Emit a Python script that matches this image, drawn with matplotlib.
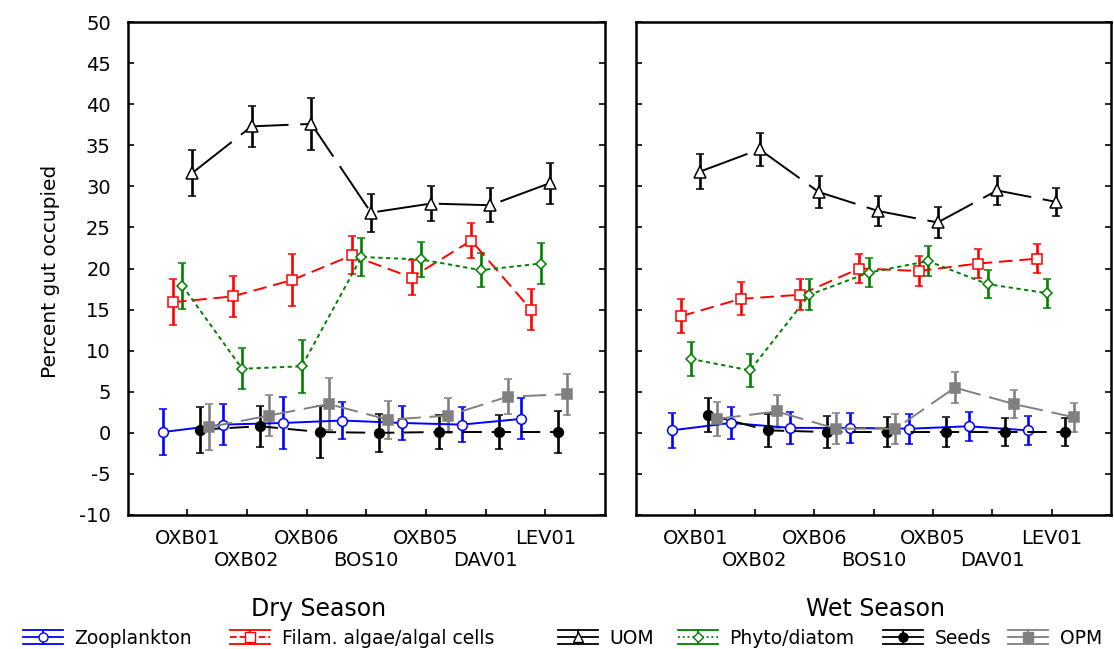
import matplotlib
matplotlib.use("Agg")
import matplotlib.pyplot as plt
from matplotlib.lines import Line2D
from matplotlib.legend_handler import HandlerBase

# ── Data ──────────────────────────────────────────────────────────────────────
sites = ["OXB01", "OXB02", "OXB06", "BOS10", "OXB05", "DAV01", "LEV01"]

zoo_dry   = [0.1, 1.0, 1.2, 1.5, 1.2, 1.0, 1.7]
filam_dry = [15.9, 16.6, 18.6, 21.6, 18.9, 23.4, 15.0]
uom_dry   = [31.6, 37.3, 37.6, 26.8, 27.9, 27.7, 30.4]
phyto_dry = [17.9, 7.8, 8.1, 21.4, 21.1, 19.8, 20.6]
seeds_dry = [0.4, 0.8, 0.1, 0.0, 0.1, 0.1, 0.1]
opm_dry   = [0.7, 2.1, 3.5, 1.6, 2.1, 4.4, 4.7]
se_dry    = [2.8, 2.5, 3.2, 2.3, 2.1, 2.1, 2.5]

zoo_wet   = [0.3, 1.2, 0.6, 0.6, 0.5, 0.8, 0.3]
filam_wet = [14.2, 16.3, 16.8, 20.0, 19.7, 20.6, 21.2]
uom_wet   = [31.8, 34.5, 29.3, 27.0, 25.6, 29.5, 28.1]
phyto_wet = [9.0, 7.6, 16.8, 19.5, 20.9, 18.1, 17.0]
seeds_wet = [2.2, 0.3, 0.1, 0.1, 0.1, 0.1, 0.1]
opm_wet   = [1.7, 2.6, 0.5, 0.5, 5.5, 3.5, 1.9]
se_wet    = [2.1, 2.0, 1.9, 1.8, 1.85, 1.75, 1.75]

labels = ["Zooplankton", "Filam. algae/algal cells", "UOM",
          "Phyto/diatom", "Seeds", "OPM"]

# ── Styles ────────────────────────────────────────────────────────────────────
STY = [
    dict(color="#0000FF", ls="-",            leg="-",  marker="o", mfc="white",   ms=7.0, off=-0.40),
    dict(color="#FF0000", ls=(0, (7, 3.5)),  leg="--", marker="s", mfc="white",   ms=7.0, off=-0.24),
    dict(color="#000000", ls=(0, (26, 6)),   leg="-",  marker="^", mfc="white",   ms=8.0, off=0.08),
    dict(color="#008000", ls=(0, (2.2, 1.8)), leg=":", marker="D", mfc="white",   ms=5.0, off=-0.08),
    dict(color="#000000", ls=(0, (10, 5)),   leg="-",  marker="o", mfc="#000000", ms=7.0, off=0.22),
    dict(color="#808080", ls=(0, (12, 4.5)), leg="-",  marker="s", mfc="#808080", ms=6.5, off=0.37),
]

W, H, DPI = 1114, 649, 100
plt.rcParams["font.family"] = "DejaVu Sans"
plt.rcParams["axes.unicode_minus"] = False

fig = plt.figure(figsize=(W / DPI, H / DPI), dpi=DPI, facecolor="white")
ax_dry = fig.add_axes([127.5 / W, (H - 515) / H, 477.5 / W, 493 / H])
ax_wet = fig.add_axes([636 / W, (H - 515) / H, 475 / W, 493 / H])

tick_labels = [s if i % 2 == 0 else "\n" + s for i, s in enumerate(sites)]
xs = list(range(1, len(sites) + 1))


def draw_panel(ax, series, se):
    for st, vals in zip(STY, series):
        x = [v + st["off"] for v in xs]
        ax.errorbar(x, vals, yerr=se, color=st["color"], ls=st["ls"], lw=1.4,
                    marker=st["marker"], mfc=st["mfc"], mec=st["color"],
                    ms=st["ms"], mew=1.1, elinewidth=1.9, capsize=3,
                    capthick=1.9)
    ax.set_xlim(0, 8)
    ax.set_ylim(-10, 50)
    ax.set_yticks(range(-10, 51, 5))
    ax.set_xticks(xs)
    ax.set_xticklabels(tick_labels, fontsize=15, linespacing=1.2)
    ax.tick_params(direction="in", length=4, width=1.2, left=True, right=True,
                   bottom=True, top=False, labelsize=14)
    ax.tick_params(axis="x", pad=10)
    ax.tick_params(axis="y", pad=12)
    for sp in ax.spines.values():
        sp.set_linewidth(1.8)


draw_panel(ax_dry, [zoo_dry, filam_dry, uom_dry, phyto_dry, seeds_dry, opm_dry], se_dry)
draw_panel(ax_wet, [zoo_wet, filam_wet, uom_wet, phyto_wet, seeds_wet, opm_wet], se_wet)
ax_wet.tick_params(axis="y", labelleft=False)

# ── Labels ────────────────────────────────────────────────────────────────────
fig.text(51 / W, 1 - 271 / H, "Percent gut occupied", rotation=90,
         fontsize=14.5, ha="center", va="center")
fig.text(319 / W, 1 - 609 / H, "Dry Season", fontsize=17, ha="center", va="center")
fig.text(876 / W, 1 - 609 / H, "Wet Season", fontsize=17, ha="center", va="center")


# ── Legend ────────────────────────────────────────────────────────────────────
class ErrHandler(HandlerBase):
    def create_artists(self, legend, h, xd, yd, width, height, fontsize, trans):
        x0, x1 = -xd, -xd + width
        y0, y1 = -yd, -yd + height
        ym, xm = (y0 + y1) / 2, (x0 + x1) / 2
        c = h.get_color()
        out = [
            Line2D([x0, x1], [y1, y1], color=c, lw=1.3),
            Line2D([x0, x1], [y0, y0], color=c, lw=1.3),
            Line2D([x0, x1], [ym, ym], color=c, lw=1.3, ls=h.get_linestyle()),
            Line2D([xm, xm], [y0, y1], color=c, lw=1.3),
            Line2D([xm], [ym], color=c, marker=h.get_marker(),
                   mfc=h.get_markerfacecolor(), mec=c, ms=h.get_markersize(), mew=1.0),
        ]
        for a in out:
            a.set_transform(trans)
        return out


leg_x = [23, 230, 558, 678, 883, 1008]
for st, lab, lx in zip(STY, labels, leg_x):
    h = Line2D([], [], color=st["color"], ls=st["leg"], marker=st["marker"],
               mfc=st["mfc"], ms=min(st["ms"], 6.5))
    fig.legend(handles=[h], labels=[lab], loc="center left",
               bbox_to_anchor=(lx / W, 1 - 638 / H), frameon=False,
               fontsize=13.5, handlelength=2.15, handleheight=0.75,
               handletextpad=0.6, borderpad=0, borderaxespad=0,
               handler_map={Line2D: ErrHandler()})

fig.savefig("out.png", dpi=DPI, facecolor="white")
